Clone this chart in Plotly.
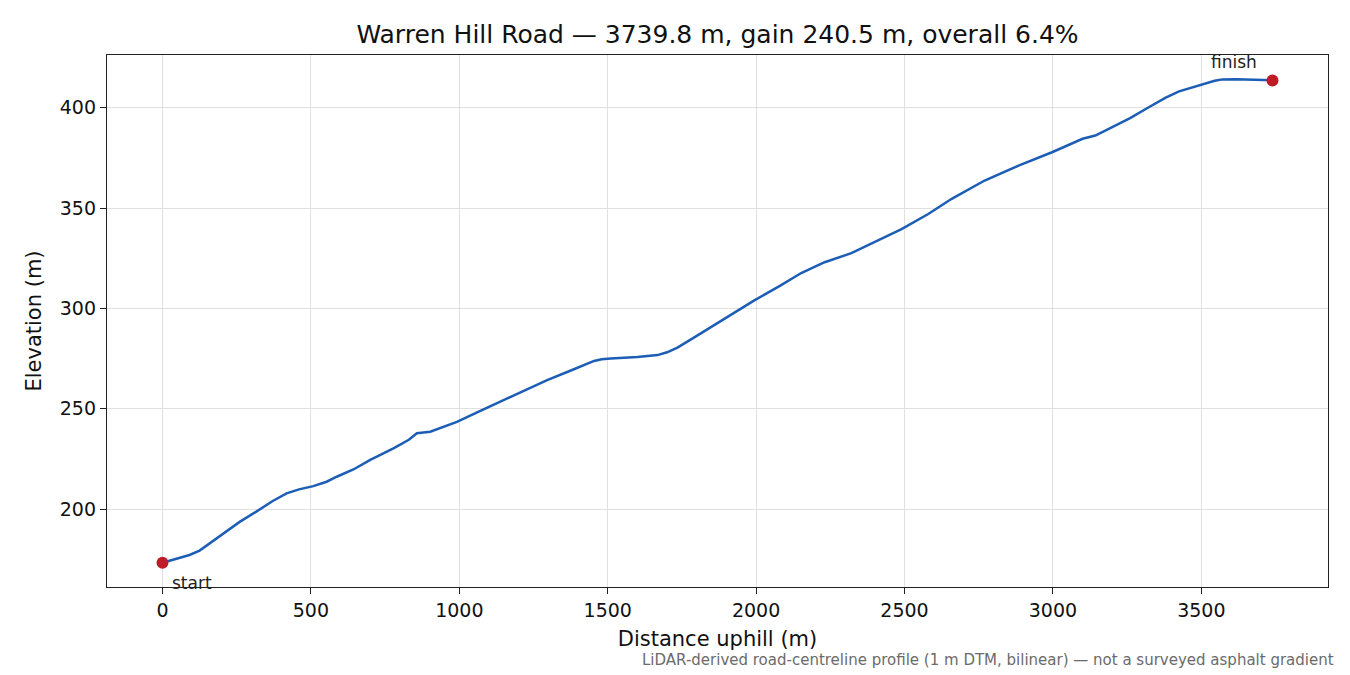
import plotly.graph_objects as go

# elevation profile
distance_m = [0, 40, 91, 125, 165, 204, 215, 260, 316, 370, 418, 460, 508, 553, 587,
              643, 700, 778, 830, 857, 902, 992, 1060, 1139, 1210, 1296, 1380, 1430,
              1454, 1480, 1510, 1600, 1640, 1668, 1700, 1735, 1800, 1871, 1994, 2080,
              2152, 2195, 2231, 2321, 2400, 2490, 2580, 2659, 2770, 2884, 2997, 3075,
              3100, 3143, 3188, 3260, 3323, 3380, 3425, 3503, 3545, 3571, 3616, 3680,
              3739.8]
elevation_m = [173.2, 175.0, 177.1, 179.3, 183.5, 187.9, 188.7, 193.6, 198.7, 203.9,
               207.8, 209.8, 211.4, 213.6, 216.1, 219.7, 224.5, 230.2, 234.5, 237.8,
               238.5, 243.4, 248.2, 253.5, 258.5, 264.2, 269.3, 272.3, 273.8, 274.6,
               275.0, 275.8, 276.2, 276.7, 278.1, 280.4, 286.3, 292.7, 304.0, 311.2,
               317.6, 320.6, 323.0, 327.5, 333.0, 339.5, 347.0, 354.6, 363.7, 371.1,
               377.8, 382.8, 384.5, 386.1, 389.4, 394.8, 400.2, 405.0, 408.1, 411.8,
               413.4, 414.1, 414.2, 413.9, 413.6]

endpoint_labels = ["start", "finish"]
x_ticks = [0, 500, 1000, 1500, 2000, 2500, 3000, 3500]
y_ticks = [200, 250, 300, 350, 400]

title = "Warren Hill Road \u2014 3739.8 m, gain 240.5 m, overall 6.4%"
note = "LiDAR-derived road-centreline profile (1 m DTM, bilinear) \u2014 not a surveyed asphalt gradient"

font = "DejaVu Sans, Liberation Sans, sans-serif"

# page body has an 8px margin, so the figure is a bit smaller than the window
W, H = 1342, 667
L, R, T, B = 99, 22, 47, 88

fig = go.Figure()
fig.add_trace(go.Scatter(x=distance_m, y=elevation_m, mode="lines",
                         line=dict(color="#1c5db5", width=2.5), hoverinfo="x+y"))
ends_x = [distance_m[0], distance_m[-1]]
ends_y = [elevation_m[0], elevation_m[-1]]
fig.add_trace(go.Scatter(x=ends_x, y=ends_y, mode="markers",
                         marker=dict(color="#c01c28", size=12)))

# start / finish labels
fig.add_annotation(x=ends_x[0], y=ends_y[0], text=endpoint_labels[0], showarrow=False,
                   xanchor="left", yanchor="middle", xshift=7, yshift=-20,
                   font=dict(size=17, color="#222"))
fig.add_annotation(x=ends_x[1], y=ends_y[1], text=endpoint_labels[1], showarrow=False,
                   xanchor="center", yanchor="middle", xshift=-39, yshift=18,
                   font=dict(size=17, color="#222"))
pw, ph = W - L - R, H - T - B
fig.add_annotation(xref="paper", yref="paper", x=(1328 - L) / pw, y=-(652 - (H - B)) / ph,
                   text=note, showarrow=False, xanchor="right", yanchor="middle",
                   font=dict(size=15, color="#6b6b6b"))

span_x = distance_m[-1] - distance_m[0]
span_y = max(elevation_m) - min(elevation_m)
axis_common = dict(showline=True, mirror=True, linecolor="#222", linewidth=1.3,
                   ticks="outside", ticklen=6, tickcolor="#222",
                   showgrid=True, gridcolor="#e0e0e0", gridwidth=1, zeroline=False,
                   tickfont=dict(size=19, color="#111"))
fig.update_xaxes(range=[distance_m[0] - 0.05 * span_x, distance_m[-1] + 0.05 * span_x],
                 tickvals=x_ticks, title=dict(text="Distance uphill (m)", font=dict(size=21), standoff=11),
                 **axis_common)
fig.update_yaxes(range=[min(elevation_m) - 0.05 * span_y, max(elevation_m) + 0.05 * span_y],
                 tickvals=y_ticks, title=dict(text="Elevation (m)", font=dict(size=21), standoff=12),
                 **axis_common)

fig.update_layout(
    width=W, height=H,
    margin=dict(l=L, r=R, t=T, b=B),
    plot_bgcolor="white", paper_bgcolor="white",
    font=dict(family=font, color="#111"),
    showlegend=False,
    title=dict(text=title, x=(L + W - R) / 2 / W, xanchor="center",
               y=1 - 26 / H, yanchor="middle", font=dict(size=25)),
)

fig.write_html("out.html")
